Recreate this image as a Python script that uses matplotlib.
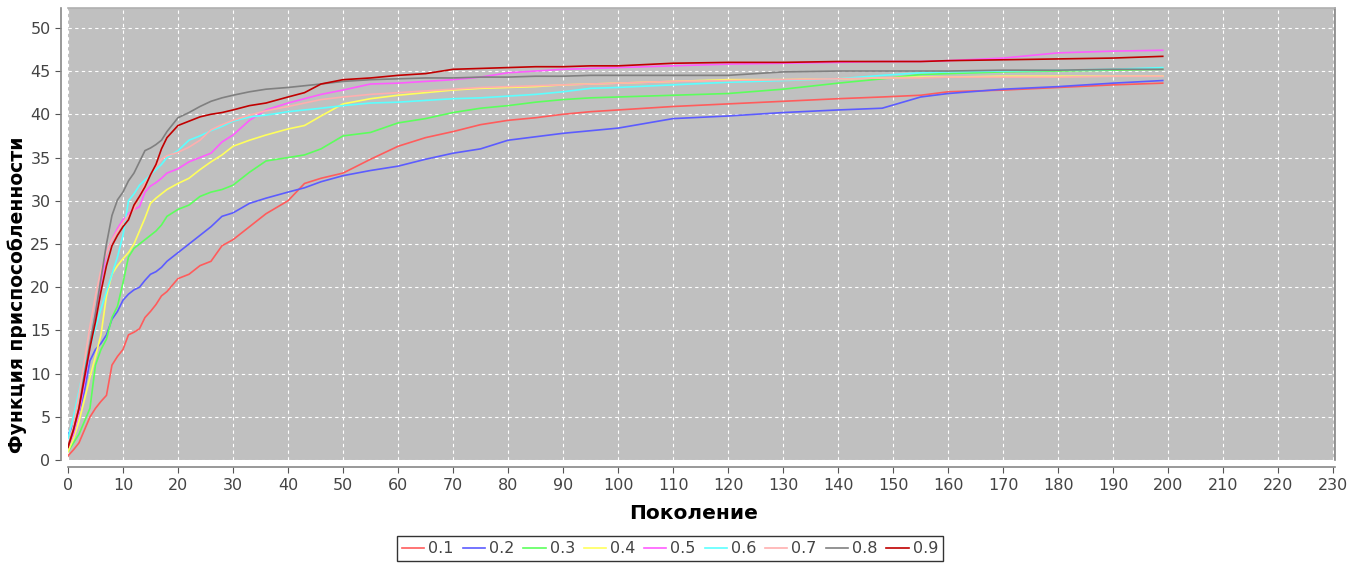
import matplotlib
matplotlib.use("Agg")
import matplotlib.pyplot as plt

# поколения, в которых снято значение функции приспособленности
generations = [0, 1, 2, 3, 4, 5, 6, 7, 8, 9, 10, 11, 12, 13, 14, 15, 16, 17, 18,
               20, 22, 24, 26, 28, 30, 33, 36, 40, 43, 46, 50, 55, 60, 65, 70,
               75, 80, 85, 90, 95, 100, 110, 120, 130, 140, 148, 155, 160, 170,
               180, 190, 199]

f_01 = [0.5, 1.2, 2, 3.5, 5, 6, 6.8, 7.5, 11, 12, 12.8, 14.5, 14.8, 15.2, 16.5,
        17.2, 18, 19, 19.5, 21, 21.5, 22.5, 23, 24.8, 25.5, 27, 28.5, 30, 32,
        32.6, 33.2, 34.8, 36.3, 37.3, 38, 38.8, 39.3, 39.6, 40, 40.3, 40.5,
        40.9, 41.2, 41.5, 41.8, 42, 42.2, 42.6, 42.8, 43.1, 43.4, 43.6]
f_02 = [3, 4, 5.5, 8, 11.5, 12.8, 13.5, 14.5, 16.3, 17.2, 18.5, 19.2, 19.7, 20,
        20.8, 21.5, 21.8, 22.3, 23, 24, 25, 26, 27, 28.2, 28.6, 29.7, 30.3, 31,
        31.5, 32.2, 32.9, 33.5, 34, 34.8, 35.5, 36, 37, 37.4, 37.8, 38.1, 38.4,
        39.5, 39.8, 40.2, 40.5, 40.7, 42, 42.4, 42.9, 43.2, 43.6, 43.9]
f_03 = [1, 2, 3, 4.5, 6, 11, 12.8, 14, 16.5, 17.8, 20.5, 23.5, 24.5, 25, 25.5,
        26, 26.5, 27.2, 28.2, 29, 29.5, 30.5, 31, 31.3, 31.8, 33.3, 34.6, 35,
        35.3, 36, 37.5, 37.9, 39, 39.5, 40.2, 40.7, 41, 41.4, 41.7, 41.9, 42,
        42.2, 42.4, 42.9, 43.6, 44.1, 44.6, 44.7, 44.9, 45, 45.1, 45.2]
f_04 = [1, 2.5, 4.5, 7, 9.6, 12, 14.5, 19, 21.5, 22.5, 23.3, 24, 25, 26.5, 28,
        29.7, 30.3, 30.8, 31.3, 32, 32.6, 33.6, 34.5, 35.3, 36.3, 37, 37.6,
        38.3, 38.7, 39.8, 41.2, 41.8, 42.2, 42.5, 42.8, 43, 43.1, 43.2, 43.4,
        43.5, 43.6, 43.8, 44, 44, 44.1, 44.2, 44.3, 44.3, 44.4, 44.4, 44.4, 44.4]
f_05 = [1.5, 3, 5.5, 9, 13, 17, 20.5, 24, 25.5, 26.8, 27.8, 28.5, 29, 29.3, 31,
        31.7, 32.1, 32.6, 33.2, 33.7, 34.5, 35, 35.5, 36.8, 37.6, 39.3, 40.5,
        41.3, 41.8, 42.3, 42.8, 43.5, 43.6, 43.8, 44, 44.3, 44.8, 45, 45.2,
        45.3, 45.4, 45.6, 45.8, 45.9, 46, 46.1, 46.1, 46.2, 46.5, 47.1, 47.3, 47.4]
f_06 = [2.5, 5, 8, 11, 13, 15.3, 17.5, 19.5, 21.5, 23.5, 26, 30, 30.8, 31.8,
        32.4, 33, 33.6, 34.2, 35, 35.8, 37, 37.5, 38.1, 38.6, 39.2, 39.7, 39.9,
        40.3, 40.5, 40.7, 41, 41.3, 41.4, 41.6, 41.8, 41.9, 42.1, 42.3, 42.6,
        43, 43.1, 43.4, 43.7, 43.9, 44.1, 44.5, 44.8, 44.9, 45, 45.1, 45.2, 45.4]
f_07 = [1.5, 4, 7.5, 11.5, 15.5, 19, 22, 24, 25.5, 26.5, 27.5, 28.3, 29, 30.5,
        32, 33, 34, 34.8, 35.2, 35.6, 36.2, 37, 38.2, 38.8, 39.3, 39.9, 40.4,
        40.9, 41.3, 41.7, 42, 42.3, 42.5, 42.7, 42.9, 43.1, 43.2, 43.3, 43.4,
        43.5, 43.6, 43.8, 43.9, 44, 44.1, 44.2, 44.2, 44.3, 44.3, 44.3, 44.4, 44.4]
f_08 = [1.5, 3.5, 6, 10, 13.5, 17, 21, 25, 28.3, 30.1, 31, 32.3, 33.2, 34.5,
        35.8, 36.1, 36.5, 37, 38, 39.6, 40.2, 40.9, 41.5, 41.9, 42.2, 42.6,
        42.9, 43.1, 43.3, 43.5, 43.8, 44, 44.1, 44.2, 44.2, 44.3, 44.3, 44.4,
        44.4, 44.5, 44.5, 44.5, 44.5, 44.9, 45, 45, 45, 45, 45.1, 45.1, 45.2, 45.2]
f_09 = [1.5, 3.5, 6, 9.5, 13, 16, 19.5, 22.5, 24.8, 26, 27, 27.8, 29.5, 30.5,
        31.6, 33, 34.2, 36, 37.3, 38.7, 39.2, 39.7, 40, 40.2, 40.5, 41, 41.3,
        42, 42.5, 43.5, 44, 44.2, 44.5, 44.7, 45.2, 45.3, 45.4, 45.5, 45.5,
        45.6, 45.6, 45.9, 46, 46, 46.1, 46.1, 46.1, 46.2, 46.3, 46.4, 46.5, 46.7]

labels = ["0.1", "0.2", "0.3", "0.4", "0.5", "0.6", "0.7", "0.8", "0.9"]
series = [f_01, f_02, f_03, f_04, f_05, f_06, f_07, f_08, f_09]
colors = ["#FF5C5C", "#5C5CFF", "#5CFF5C", "#FFFF5C", "#FF5CFF", "#5CFFFF",
          "#FFAFAF", "#808080", "#C00000"]

fig = plt.figure(figsize=(13.59, 5.64), dpi=100)
ax = fig.add_axes([0.05, 0.184, 0.9323, 0.802])
ax.set_facecolor("#C0C0C0")

for ys, lab, c in zip(series, labels, colors):
    ax.plot(generations, ys, color=c, lw=1.2, label=lab)

ax.set_xlim(0, 230.3)
ax.set_ylim(0, 52.3)
ax.set_xticks(range(0, 231, 10))
ax.set_yticks(range(0, 51, 5))
ax.grid(True, color="white", linestyle=(0, (3, 3)), lw=0.8)
ax.set_axisbelow(True)
ax.tick_params(colors="#555555", labelsize=11.5, length=4, width=0.8)
ax.tick_params(axis="x", labelcolor="#444444")
ax.tick_params(axis="y", labelcolor="#444444")
for side in ["left", "bottom"]:
    ax.spines[side].set_position(("outward", 5))
for s in ax.spines.values():
    s.set_color("#888888")
    s.set_linewidth(1.2)
ax.spines["top"].set_color("#B0B0B0")

fig.text(0.51, 0.09, "Поколение", ha="center", va="center",
         fontsize=14.5, fontweight="bold")
fig.text(0.013, 0.477, "Функция приспособленности", ha="center",
         va="center", rotation=90, fontsize=13.5, fontweight="bold")

leg = fig.legend(loc="center", bbox_to_anchor=(0.493, 0.027), ncol=9,
                 fontsize=11.5, frameon=True, fancybox=False, edgecolor="black",
                 handlelength=1.4, handletextpad=0.25, columnspacing=0.55,
                 borderpad=0.3, borderaxespad=0)
leg.get_frame().set_linewidth(1.0)
for t in leg.get_texts():
    t.set_color("#444444")

fig.savefig("out.png", dpi=100)
